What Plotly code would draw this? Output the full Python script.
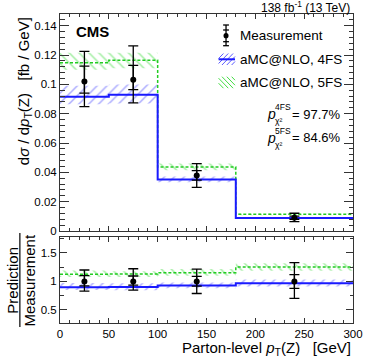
import plotly.graph_objects as go

# bins of parton-level pT(Z) [GeV]
bin_edges = [0, 50, 100, 180, 300]
bin_centers = [25, 75, 140, 240]
bin_widths = [50, 50, 80, 120]

# measurement [fb/GeV]
meas = [0.1020, 0.1032, 0.0378, 0.0091]
stat_up = [0.0105, 0.0098, 0.0034, 0.0011]
stat_dn = [0.0080, 0.0068, 0.0031, 0.0011]
tot_up = [0.0205, 0.0230, 0.0082, 0.0030]
tot_dn = [0.0172, 0.0158, 0.0080, 0.0027]

# aMC@NLO 4FS
pred4 = [0.0916, 0.0930, 0.0351, 0.0088]
pred4_lo = [0.0865, 0.0870, 0.0333, 0.0083]
pred4_hi = [0.0991, 0.1000, 0.0371, 0.0094]

# aMC@NLO 5FS
pred5 = [0.1147, 0.1165, 0.0436, 0.0114]
pred5_lo = [0.1100, 0.1110, 0.0415, 0.0108]
pred5_hi = [0.1215, 0.1215, 0.0460, 0.0120]

pchi2_4fs = "97.7%"
pchi2_5fs = "84.6%"

BLUE = "#1a1aff"
BLUE_H = "#5a5aff"
GREEN = "#22cc22"
GREEN_H = "#44dd44"
FONT = "Liberation Sans"

# plot area in pixels (used only to place text / legend decorations)
L, R, T, B = 60, 363, 14, 323


def px_x(p):
    return (p - L) / (R - L)


def px_y(p):
    return (B - p) / (B - T)


def ratio(vals):
    return [v / m for v, m in zip(vals, meas)]


def rel(vals):
    return [v / m for v, m in zip(vals, meas)]


def step(vals):
    return vals + [vals[-1]]


fig = go.Figure()


def add_band(lo, hi, shape, color, xa, ya):
    fig.add_trace(go.Bar(
        x=bin_centers, base=lo, y=[h - l for h, l in zip(hi, lo)],
        width=bin_widths, xaxis=xa, yaxis=ya,
        marker=dict(color="rgba(0,0,0,0)", line=dict(width=0),
                    pattern=dict(shape=shape, fgcolor=color,
                                 bgcolor="rgba(0,0,0,0)", size=7,
                                 solidity=0.22)),
        hoverinfo="skip"))


def add_step(vals, color, dash, width, xa, ya):
    fig.add_trace(go.Scatter(
        x=bin_edges, y=step(vals), mode="lines", line_shape="hv",
        line=dict(color=color, dash=dash, width=width),
        xaxis=xa, yaxis=ya, hoverinfo="skip"))


def add_meas(y, up_t, dn_t, up_s, dn_s, xa, ya):
    fig.add_trace(go.Scatter(
        x=bin_centers, y=y, mode="markers", xaxis=xa, yaxis=ya,
        marker=dict(size=1, color="black"),
        error_y=dict(type="data", symmetric=False, array=up_t,
                     arrayminus=dn_t, color="black", thickness=1.3,
                     width=5)))
    fig.add_trace(go.Scatter(
        x=bin_centers, y=y, mode="markers", xaxis=xa, yaxis=ya,
        marker=dict(size=6, color="black"),
        error_y=dict(type="data", symmetric=False, array=up_s,
                     arrayminus=dn_s, color="black", thickness=1.3,
                     width=5)))


# top panel
add_band(pred5_lo, pred5_hi, "\\", GREEN_H, "x", "y")
add_band(pred4_lo, pred4_hi, "/", BLUE_H, "x", "y")
add_step(pred5, GREEN, "3px,2px", 1.5, "x", "y")
add_step(pred4, BLUE, "solid", 2, "x", "y")
add_meas(meas, tot_up, tot_dn, stat_up, stat_dn, "x", "y")

# ratio panel
add_band(ratio(pred5_lo), ratio(pred5_hi), "\\", GREEN_H, "x2", "y2")
add_band(ratio(pred4_lo), ratio(pred4_hi), "/", BLUE_H, "x2", "y2")
add_step(ratio(pred5), GREEN, "3px,2px", 1.5, "x2", "y2")
add_step(ratio(pred4), BLUE, "solid", 2, "x2", "y2")
add_meas([1] * len(meas), rel(tot_up), rel(tot_dn), rel(stat_up),
         rel(stat_dn), "x2", "y2")

FRAME = "#333333"
tickfont = dict(family=FONT, size=11.5, color="black")
common = dict(showline=True, linecolor=FRAME, linewidth=1, mirror="ticks",
              ticks="inside", tickcolor=FRAME, showgrid=False,
              zeroline=False, tickfont=tickfont)

fig.update_layout(
    width=374, height=363,
    margin=dict(l=L, r=374 - R, t=T, b=363 - B),
    paper_bgcolor="white", plot_bgcolor="white",
    showlegend=False, barmode="overlay",
    xaxis=dict(domain=[0, 1], anchor="y", range=[0, 300], dtick=50,
               showticklabels=False, ticklen=5,
               minor=dict(dtick=10, ticklen=3, ticks="inside",
                          tickcolor=FRAME), **common),
    yaxis=dict(domain=[px_y(231), 1], anchor="x", range=[0, 0.148],
               dtick=0.02, ticklen=9,
               minor=dict(dtick=0.004, ticklen=4.5, ticks="inside",
                          tickcolor=FRAME), **common),
    xaxis2=dict(domain=[0, 1], anchor="y2", range=[0, 300], dtick=50,
                ticklen=5,
                minor=dict(dtick=10, ticklen=3, ticks="inside",
                           tickcolor=FRAME), **common),
    yaxis2=dict(domain=[0, px_y(237)], anchor="x2", range=[0.27, 1.78],
                tick0=0, dtick=0.5, ticklen=7,
                minor=dict(dtick=0.25, ticklen=3.5, ticks="inside",
                           tickcolor=FRAME), **common),
)

ann = []
shapes = []


def text(x, y, s, size, xanchor="left", yanchor="middle", angle=0):
    ann.append(dict(x=px_x(x), y=px_y(y), xref="paper", yref="paper",
                    text=s, showarrow=False, xanchor=xanchor,
                    yanchor=yanchor, textangle=angle,
                    font=dict(family=FONT, size=size, color="black")))


def seg(x0, y0, x1, y1, color, width=1):
    shapes.append(dict(type="line", xref="paper", yref="paper",
                       x0=px_x(x0), y0=px_y(y0), x1=px_x(x1), y1=px_y(y1),
                       line=dict(color=color, width=width)))


def hatch(x0, x1, y0, y1, spacing, color, up=True):
    h = y1 - y0
    xs = x0 - h
    while xs < x1:
        t0 = max(0, x0 - xs)
        t1 = min(h, x1 - xs)
        if t1 > t0:
            if up:
                seg(xs + t0, y1 - t0, xs + t1, y1 - t1, color, 1)
            else:
                seg(xs + t0, y0 + t0, xs + t1, y0 + t1, color, 1)
        xs += spacing


text(74, 32, "<b>CMS</b>", 15)
text(362, 7, "138 fb<sup>-1</sup> (13 TeV)", 12, xanchor="right")

# legend
ex = 231.7
seg(ex, 25, ex, 45.7, "black", 1.3)
for yy in (25, 30, 41.7, 45.7):
    seg(ex - 3, yy, ex + 3, yy, "black", 1.3)
shapes.append(dict(type="circle", xref="paper", yref="paper",
                   x0=px_x(ex - 2.6), x1=px_x(ex + 2.6),
                   y0=px_y(35.7 - 2.6), y1=px_y(35.7 + 2.6),
                   fillcolor="black", line=dict(width=0)))
text(244, 35.7, "Measurement", 13.5)

hatch(224, 241, 53.5, 65, 5, BLUE_H, up=True)
seg(224, 59.3, 241, 59.3, BLUE, 2)
text(244, 59.3, "aMC@NLO, 4FS", 13.5)

hatch(224, 241, 76.7, 88.2, 5, GREEN_H, up=False)
text(244, 82.3, "aMC@NLO, 5FS", 13.5)

# p-values
for yc, lab, val in ((114, "4FS", pchi2_4fs), (137.5, "5FS", pchi2_5fs)):
    text(272.5, yc, "<i>p</i>", 14)
    text(280, yc - 7, lab, 8.5)
    text(280.5, yc + 7, "χ²", 8.5)
    text(298, yc, "= " + val, 13)

# axis titles
NB = "\u00a0"
text(24, 15, "d<i>σ</i> / d<i>p</i><sub>T</sub>(Z)" + NB * 3 + "[fb / GeV]",
     15, xanchor="center", yanchor="top", angle=-90)
text(10, 280, "Prediction", 15, xanchor="center", angle=-90)
text(27.5, 280, "Measurement", 15, xanchor="center", angle=-90)
seg(18.5, 233, 18.5, 327, "black", 1.2)
text(363, 348, "Parton-level <i>p</i><sub>T</sub>(Z)" + NB * 3 + "[GeV]",
     15, xanchor="right")

fig.update_layout(annotations=ann, shapes=shapes)

fig.write_html("out.html", config={"displayModeBar": False},
               post_script="document.body.style.margin='0';")
